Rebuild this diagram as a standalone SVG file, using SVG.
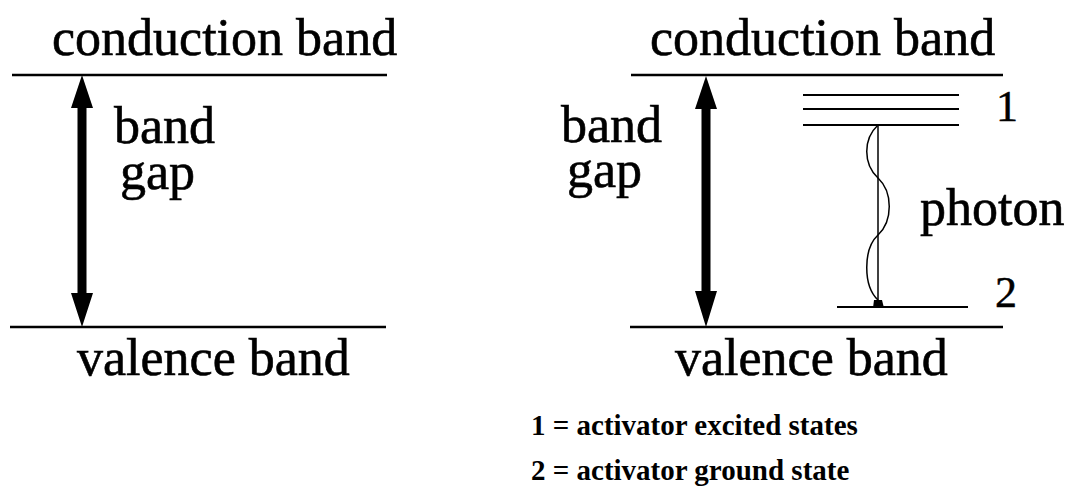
<svg xmlns="http://www.w3.org/2000/svg" width="1072" height="495" viewBox="0 0 1072 495">
<style>
.big{font-family:"Liberation Serif","Times New Roman",serif;font-size:52px;fill:#000;stroke:#000;stroke-width:0.6}
.num{font-family:"Liberation Serif","Times New Roman",serif;font-size:44px;fill:#000;stroke:#000;stroke-width:0.5}
.small{font-family:"Liberation Serif","Times New Roman",serif;font-size:29px;font-weight:bold;fill:#000}
.band{stroke:#000;stroke-width:2.5;fill:none}
.level{stroke:#000;stroke-width:2;fill:none}
.thin{stroke:#000;stroke-width:1.5;fill:none}
.arrow{fill:#000;stroke:none}
</style>
<rect width="1072" height="495" fill="#fff"/>
<g id="left-diagram">
  <text class="big" x="52" y="55">conduction band</text>
  <line class="band" x1="12" y1="75" x2="387" y2="75"/>
  <line class="band" x1="10" y1="327" x2="386" y2="327"/>
  <text class="big" x="77" y="375">valence band</text>
  <text class="big"><tspan x="114" y="143">band</tspan><tspan x="120" y="189">gap</tspan></text>
</g>
<g id="right-diagram">
  <text class="big" x="650" y="55">conduction band</text>
  <line class="band" x1="631" y1="75" x2="1003" y2="75"/>
  <line class="band" x1="630" y1="327" x2="1003" y2="327"/>
  <text class="big" x="675" y="375">valence band</text>
  <text class="big"><tspan x="561" y="142">band</tspan><tspan x="567" y="187">gap</tspan></text>
</g>
<g id="excited-states">
  <line class="level" x1="803" y1="95" x2="959" y2="95"/>
  <line class="level" x1="803" y1="109" x2="959" y2="109"/>
  <line class="level" x1="803" y1="125" x2="959" y2="125"/>
  <text class="num" x="996" y="121">1</text>
</g>
<g id="ground-state">
  <line class="level" x1="837" y1="307" x2="968" y2="307"/>
  <text class="num" x="995" y="307">2</text>
</g>
<g id="photon">
  <text class="big" x="920" y="225">photon</text>
</g>
<g id="legend">
  <text class="small" x="531" y="435">1 = activator excited states</text>
  <text class="small" x="531" y="480">2 = activator ground state</text>
</g>
<g id="connectors">
  <path class="arrow" d="M82,75 L93,108 L86.5,108 L86.5,293 L93,293 L82,327 L71,293 L77.5,293 L77.5,108 L71,108 Z"/>
  <path class="arrow" d="M706,76 L717,109 L710.5,109 L710.5,291 L717,291 L706,327 L695,291 L701.5,291 L701.5,109 L695,109 Z"/>
  <line class="thin" x1="878" y1="125" x2="878" y2="305"/>
  <path class="thin" d="M878,125 C863,139 863,164 878,178 C893,192 893,221 878,235 C863,249 863,286 878,300"/>
  <path class="arrow" d="M873,308 L874,300 L882,300 L884,308 Z"/>
</g>
</svg>
